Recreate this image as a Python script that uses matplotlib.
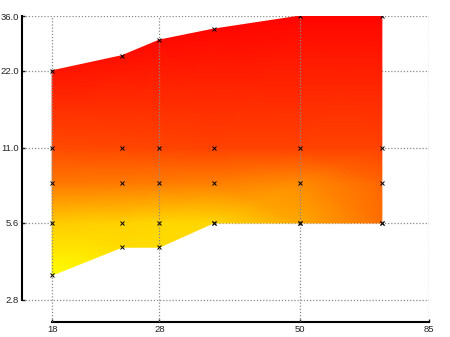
import numpy as np
import matplotlib
matplotlib.use("Agg")
import matplotlib.pyplot as plt
from matplotlib.ticker import FixedLocator, FixedFormatter, NullLocator

# node columns (x) and rows (y) of the shaded band
xs = [18, 24, 28, 35, 50, 70]
y_lower = [3.5, 4.5, 4.5, 5.6, 5.6, 5.6]
y_56 = [5.6, 5.6, 5.6, 5.6, 5.6, 5.6]
y_8 = [8, 8, 8, 8, 8, 8]
y_11 = [11, 11, 11, 11, 11, 11]
y_upper = [22, 25.2, 29, 32, 36, 36]

# value at each node (0 = red, 1 = yellow)
z_lower = [1.0, 0.86, 0.86, 0.84, 0.66, 0.43]
z_56 = [0.80, 0.82, 0.84, 0.84, 0.66, 0.43]
z_8 = [0.47, 0.48, 0.49, 0.50, 0.55, 0.40]
z_11 = [0.29, 0.28, 0.27, 0.26, 0.26, 0.26]
z_upper = [0.08, 0.06, 0.04, 0.03, 0.02, 0.02]

xticks = [18, 28, 50, 85]
xlabels = ["18", "28", "50", "85"]
yticks = [2.8, 5.6, 11, 22, 36]
ylabels = ["2.8", "5.6", "11.0", "22.0", "36.0"]

plt.rcParams['font.family'] = ['Liberation Sans', 'DejaVu Sans']

X = np.tile(xs, (5, 1))
Y = np.array([y_lower, y_56, y_8, y_11, y_upper])
Z = np.array([z_lower, z_56, z_8, z_11, z_upper])

fig = plt.figure(figsize=(4.5, 3.37), dpi=100)
ax = fig.add_axes([22/450, 1-322/337, (429-22)/450, (322-16)/337])
ax.set_xscale('log')
ax.set_yscale('log')

ax.pcolormesh(X, Y, Z, shading='gouraud', cmap='autumn', vmin=0, vmax=1, zorder=2)
ax.plot(X.ravel(), Y.ravel(), 'x', color='black', ms=2.6, mew=0.7, zorder=4)

ax.set_xlim(15.9, 85)
ax.set_ylim(2.297, 36)

grid_style = dict(color='#8a8a8a', lw=0.9, linestyle=(0, (1, 1.5)))
for t in yticks:
    ax.axhline(t, zorder=1, **grid_style)
for t in xticks:
    ax.axvline(t, zorder=3, **grid_style)

ax.xaxis.set_major_locator(FixedLocator(xticks))
ax.xaxis.set_major_formatter(FixedFormatter(xlabels))
ax.xaxis.set_minor_locator(NullLocator())
ax.yaxis.set_major_locator(FixedLocator(yticks))
ax.yaxis.set_major_formatter(FixedFormatter(ylabels))
ax.yaxis.set_minor_locator(NullLocator())

ax.tick_params(direction='in', length=2.5, width=1, labelsize=6.8, pad=2, colors='#222222')
ax.spines['top'].set_visible(False)
ax.spines['right'].set_visible(False)
ax.spines['left'].set_bounds(2.8, 36)
ax.spines['bottom'].set_bounds(18, 85)
ax.spines['left'].set_linewidth(1.5)
ax.spines['bottom'].set_linewidth(1.5)

fig.savefig('out.png', dpi=100)
